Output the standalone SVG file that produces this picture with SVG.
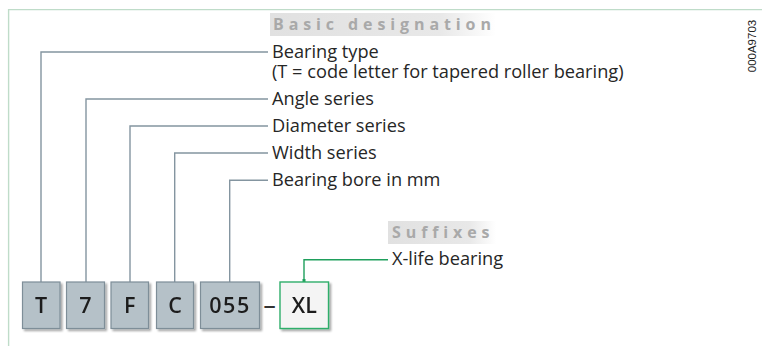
<svg xmlns="http://www.w3.org/2000/svg" width="762" height="346" viewBox="0 0 762 346">
<style>
.lbl{font-family:"Open Sans","Noto Sans",sans-serif;font-size:18.2px;fill:#262626}
.hd{font-family:"Open Sans","Noto Sans",sans-serif;font-size:16px;font-weight:bold;fill:#a9a9a9;letter-spacing:4.9px}
.bx{fill:#b5c1c8;stroke:#7e8e98;stroke-width:1.2}
.bxs{fill:#f4f4f4;stroke:#2fae6b;stroke-width:1.4}
.bt{font-family:"Open Sans","Noto Sans",sans-serif;font-size:21.5px;font-weight:600;fill:#1e1e1e;text-anchor:middle}
.cg{fill:none;stroke:#8495a0;stroke-width:1.4}
.cn{fill:none;stroke:#1f9f5c;stroke-width:1.4}
.frame{fill:none;stroke:#bfdcc9;stroke-width:1.4}
</style>
<defs>
<linearGradient id="hg" x1="0" y1="0" x2="1" y2="0">
<stop offset="0" stop-color="#e1e1e1"/>
<stop offset="0.75" stop-color="#e8e8e8"/>
<stop offset="1" stop-color="#ffffff"/>
</linearGradient>
<filter id="sh" x="-20%" y="-20%" width="150%" height="150%">
<feGaussianBlur in="SourceAlpha" stdDeviation="1.2"/>
<feOffset dx="2" dy="2" result="b"/>
<feComponentTransfer><feFuncA type="linear" slope="0.35"/></feComponentTransfer>
<feMerge><feMergeNode/><feMergeNode in="SourceGraphic"/></feMerge>
</filter>
</defs>
<rect width="762" height="346" fill="#ffffff"/>
<path class="frame" d="M8.6,346 V9.6 H762"/>
<text x="751.5" y="46" transform="rotate(-90 751.5 46)" text-anchor="middle" dominant-baseline="central" font-family="Liberation Sans, sans-serif" font-size="11.5" fill="#222">000A9703</text>

<g id="heading-basic">
<rect x="270" y="13" width="226" height="23" fill="url(#hg)"/>
<text class="hd" x="273" y="30">Basic designation</text>
</g>
<g id="heading-suffixes">
<rect x="388" y="221" width="108" height="23" fill="url(#hg)"/>
<text class="hd" x="392" y="238">Suffixes</text>
</g>

<g id="connectors">
<path class="cg" d="M41,282 V52 H268"/>
<path class="cg" d="M86,282 V99 H268"/>
<path class="cg" d="M130,282 V126 H268"/>
<path class="cg" d="M174.7,282 V153 H268"/>
<path class="cg" d="M229.7,282 V180.3 H268"/>
<path class="cn" d="M304,282 V259.7 H388"/>
<rect x="302.5" y="279" width="3" height="3" fill="#1f9f5c"/>
</g>

<g id="label-bearing-type">
<text class="lbl" x="272" y="57.5">Bearing type<tspan x="272" dy="20.5">(T = code letter for tapered roller bearing)</tspan></text>
</g>
<g id="label-angle"><text class="lbl" x="272" y="104.5">Angle series</text></g>
<g id="label-diameter"><text class="lbl" x="272" y="131.5">Diameter series</text></g>
<g id="label-width"><text class="lbl" x="272" y="158.5">Width series</text></g>
<g id="label-bore"><text class="lbl" x="272" y="186">Bearing bore in mm</text></g>
<g id="label-xlife"><text class="lbl" x="392" y="265">X-life bearing</text></g>

<g id="box-T" filter="url(#sh)"><rect class="bx" x="22.5" y="282" width="37.5" height="46.5"/><text class="bt" x="41.2" y="313">T</text></g>
<g id="box-7" filter="url(#sh)"><rect class="bx" x="66.5" y="282" width="38" height="46.5"/><text class="bt" x="85.5" y="313">7</text></g>
<g id="box-F" filter="url(#sh)"><rect class="bx" x="111" y="282" width="37.5" height="46.5"/><text class="bt" x="129.8" y="313">F</text></g>
<g id="box-C" filter="url(#sh)"><rect class="bx" x="156.5" y="282" width="37" height="46.5"/><text class="bt" x="175" y="313">C</text></g>
<g id="box-055" filter="url(#sh)"><rect class="bx" x="200.5" y="282" width="59" height="46.5"/><text class="bt" x="230" y="313" letter-spacing="1.5">055</text></g>
<text x="269.7" y="312" text-anchor="middle" font-family="Liberation Sans, sans-serif" font-size="21" font-weight="bold" fill="#333">–</text>
<g id="box-XL" filter="url(#sh)"><rect class="bxs" x="280" y="282" width="48.5" height="46.5"/><text class="bt" x="304.3" y="313">XL</text></g>
</svg>
